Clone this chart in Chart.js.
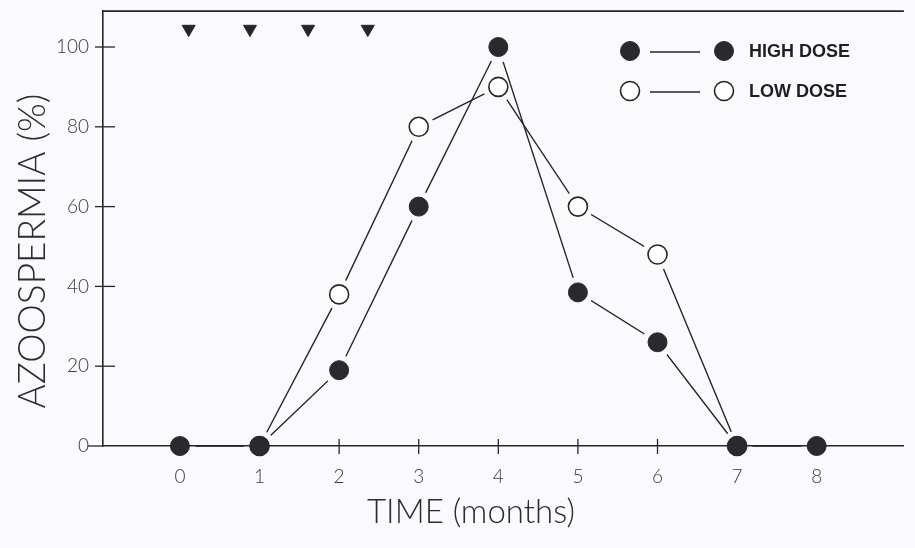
<!DOCTYPE html>
<html>
<head>
<meta charset="utf-8">
<script src="https://cdn.jsdelivr.net/npm/chart.js@4.4.1/dist/chart.umd.min.js"></script>
<style>
  html, body { margin: 0; padding: 0; background: #fafafc; }
  #wrap { width: 915px; height: 548px; position: relative; }
  canvas { display: block; }
</style>
</head>
<body>
<div id="wrap"><canvas id="chart" width="915" height="548"></canvas></div>
<script>
// Percentage of men with azoospermia by month of treatment
const months    = [0, 1, 2, 3, 4, 5, 6, 7, 8];
const highDose  = [0, 0, 19, 60, 100, 38.5, 26, 0, 0];
const lowDose   = [null, 0, 38, 80, 90, 60, 48, 0, null];
// Injection times (months), marked along the top of the plot
const injectionMonths = [0.11, 0.88, 1.61, 2.36];
const injectionLevel  = 104.5;
const yTickValues = [0, 20, 40, 60, 80, 100];
const xTickValues = [0, 1, 2, 3, 4, 5, 6, 7, 8];
const seriesLabels = ['HIGH DOSE', 'LOW DOSE'];
const yTitle = 'AZOOSPERMIA (%)';
const xTitle = 'TIME (months)';

const INK = '#262628';
const LIGHT_FONT = "'Lato', 'Open Sans', 'DejaVu Sans', sans-serif";

function toPoints(values) {
  const pts = [];
  values.forEach((v, i) => { if (v !== null) pts.push({ x: months[i], y: v }); });
  return pts;
}

// Lines stop short of their own markers, leaving a small white gap.
const markerGapPlugin = {
  id: 'markerGap',
  beforeDatasetDraw(chart, args) {
    const ds = chart.data.datasets[args.index];
    if (!ds.gapMarkers) return;
    const ctx = chart.ctx;
    ctx.save();
    ctx.beginPath();
    ctx.rect(0, 0, chart.width, chart.height);
    args.meta.data.forEach(el => {
      const r = el.options.radius + 6;
      ctx.moveTo(el.x + r, el.y);
      ctx.arc(el.x, el.y, r, 0, Math.PI * 2);
    });
    ctx.clip('evenodd');
  },
  afterDatasetDraw(chart, args) {
    const ds = chart.data.datasets[args.index];
    if (!ds.gapMarkers) return;
    const ctx = chart.ctx;
    ctx.restore();
    const area = { left: -1e4, top: -1e4, right: 1e4, bottom: 1e4 };
    args.meta.data.forEach(el => el.draw(ctx, area));
  }
};

// Frame top line, crossing tick marks, axis titles and the legend key.
const decorPlugin = {
  id: 'decor',
  beforeDatasetsDraw(chart) {
    const { ctx, chartArea, scales } = chart;
    ctx.save();
    ctx.strokeStyle = INK;
    ctx.lineWidth = 1.6;
    ctx.beginPath();
    ctx.moveTo(chartArea.left, chartArea.top);
    ctx.lineTo(chartArea.right, chartArea.top);
    ctx.stroke();
    ctx.lineWidth = 1.3;
    const xb = chartArea.bottom;
    xTickValues.forEach(v => {
      const px = scales.x.getPixelForValue(v);
      ctx.beginPath();
      ctx.moveTo(px, xb - 7);
      ctx.lineTo(px, xb + 8);
      ctx.stroke();
    });
    yTickValues.forEach(v => {
      const py = scales.y.getPixelForValue(v);
      ctx.beginPath();
      if (v === 0) {
        ctx.moveTo(chartArea.left - 15, py);
        ctx.lineTo(chartArea.left, py);
      } else {
        ctx.moveTo(chartArea.left - 8, py);
        ctx.lineTo(chartArea.left + 12, py);
      }
      ctx.stroke();
    });
    ctx.restore();
  },
  afterDraw(chart) {
    const { ctx } = chart;
    ctx.save();
    ctx.fillStyle = '#2c2c2e';
    // y title
    ctx.font = '300 37px ' + LIGHT_FONT;
    ctx.textAlign = 'center';
    ctx.textBaseline = 'middle';
    ctx.save();
    ctx.translate(33, 251);
    ctx.rotate(-Math.PI / 2);
    ctx.fillText(yTitle, 0, 0);
    ctx.restore();
    // x title
    ctx.font = '300 33px ' + LIGHT_FONT;
    ctx.fillText(xTitle, 471, 512);

    // legend key
    const rows = [
      { y: 51, ds: chart.data.datasets[2] },
      { y: 91, ds: chart.data.datasets[1] }
    ];
    rows.forEach(row => {
      const ds = row.ds;
      ctx.strokeStyle = INK;
      ctx.lineWidth = 1.4;
      ctx.beginPath();
      ctx.moveTo(650, row.y + 1);
      ctx.lineTo(700, row.y + 1);
      ctx.stroke();
      [630, 724].forEach(cx => {
        ctx.beginPath();
        ctx.arc(cx, row.y, 9.5, 0, Math.PI * 2);
        ctx.fillStyle = ds.pointBackgroundColor;
        ctx.fill();
        ctx.lineWidth = ds.pointBorderWidth;
        ctx.strokeStyle = ds.pointBorderColor;
        ctx.stroke();
      });
      ctx.fillStyle = '#1e1e20';
      ctx.font = "bold 18px 'Liberation Sans', Arial, sans-serif";
      ctx.textAlign = 'left';
      ctx.textBaseline = 'middle';
      ctx.fillText(ds.label, 749, row.y + 1);
    });
    ctx.restore();
  }
};

new Chart(document.getElementById('chart'), {
  type: 'line',
  data: {
    datasets: [
      {
        label: 'Injection',
        data: injectionMonths.map(m => ({ x: m, y: injectionLevel })),
        showLine: false,
        pointStyle: 'triangle',
        rotation: 180,
        pointRadius: 7.5,
        pointBackgroundColor: INK,
        pointBorderColor: INK,
        pointBorderWidth: 1,
        order: 0
      },
      {
        label: seriesLabels[1],
        data: toPoints(lowDose),
        gapMarkers: true,
        borderColor: INK,
        borderWidth: 1.4,
        pointRadius: 9.5,
        pointBackgroundColor: '#ffffff',
        pointBorderColor: INK,
        pointBorderWidth: 1.6,
        tension: 0,
        order: 2
      },
      {
        label: seriesLabels[0],
        data: toPoints(highDose),
        gapMarkers: true,
        borderColor: INK,
        borderWidth: 1.4,
        pointRadius: 9.5,
        pointBackgroundColor: '#2a2a2e',
        pointBorderColor: '#2a2a2e',
        pointBorderWidth: 1,
        tension: 0,
        order: 1
      }
    ]
  },
  options: {
    responsive: false,
    animation: false,
    clip: false,
    layout: { padding: { top: 10, right: 0, left: 0, bottom: 0 } },
    plugins: { legend: { display: false }, tooltip: { enabled: false } },
    scales: {
      x: {
        type: 'linear',
        min: -0.9665,
        max: 9.0954,
        afterBuildTicks: s => { s.ticks = xTickValues.map(v => ({ value: v })); },
        afterFit: s => { s.height = 102; s.paddingLeft = 0; s.paddingRight = 0; },
        grid: { display: false, drawTicks: false },
        border: { display: true, color: INK, width: 1.6 },
        ticks: {
          padding: 19,
          color: '#3a3a3c',
          font: { family: LIGHT_FONT, size: 19, weight: '300' },
          callback: v => String(v)
        }
      },
      y: {
        type: 'linear',
        min: 0,
        max: 109,
        afterBuildTicks: s => { s.ticks = yTickValues.map(v => ({ value: v })); },
        afterFit: s => { s.width = 103; s.paddingTop = 0; s.paddingBottom = 0; },
        grid: { display: false, drawTicks: false },
        border: { display: true, color: INK, width: 1.6 },
        ticks: {
          padding: 14,
          color: '#3a3a3c',
          font: { family: LIGHT_FONT, size: 19, weight: '300' },
          callback: v => String(v)
        }
      }
    }
  },
  plugins: [markerGapPlugin, decorPlugin]
});
</script>
</body>
</html>
